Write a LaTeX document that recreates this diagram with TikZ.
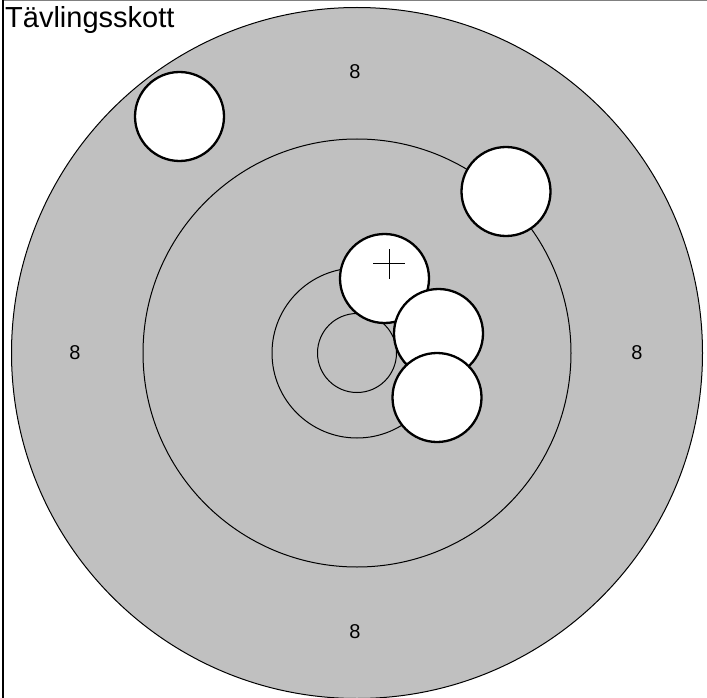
\documentclass[tikz,border=0pt]{standalone}
\usepackage{fontspec}
\setmainfont{Liberation Sans}
\definecolor{ringgray}{HTML}{C0C0C0}
\tikzset{
  ring/.style={draw=black, line width=1pt},
  hole/.style={circle, draw=black, fill=white, line width=2.3pt, minimum size=89pt, inner sep=0pt},
  score/.style={font=\fontsize{20}{22}\selectfont, inner sep=0pt},
  crossline/.style={line width=1.1pt}
}
\begin{document}
\begin{tikzpicture}[x=1pt, y=-1pt]
\useasboundingbox (0,0) rectangle (707,698);
% frame
\draw[line width=0.8pt, gray] (3,0.4) -- (707,0.4);
\draw[line width=1.6pt] (3,0) -- (3,698);
% target
\coordinate (c) at (357,353);
\fill[ringgray] (c) circle[radius=345.5];
\draw[ring] (c) circle[radius=345.5];
\draw[ring] (c) circle[radius=214];
\draw[ring] (c) circle[radius=85];
\draw[ring] (c) circle[radius=39.5];
% labels
\node[score] (s1) at (355,72) {8};
\node[score] (s2) at (75,353) {8};
\node[score] (s3) at (637,353) {8};
\node[score] (s4) at (355,632) {8};
% shots
\node[hole] (h1) at (179.5,116.5) {};
\node[hole] (h2) at (506,191.5) {};
\node[hole] (h3) at (384.5,278.5) {};
\coordinate (x0) at (389.3,263.7);
\draw[crossline] ([xshift=-16pt]x0) -- ([xshift=16pt]x0);
\draw[crossline] ([yshift=-15pt]x0) -- ([yshift=15pt]x0);
\node[hole] (h4) at (438.5,333.5) {};
\node[hole] (h5) at (437,397.5) {};
% title
\node[anchor=base west, inner sep=0pt, font=\fontsize{29}{31}\selectfont] (title) at (5,27.5) {Tävlingsskott};
\end{tikzpicture}
\end{document}
